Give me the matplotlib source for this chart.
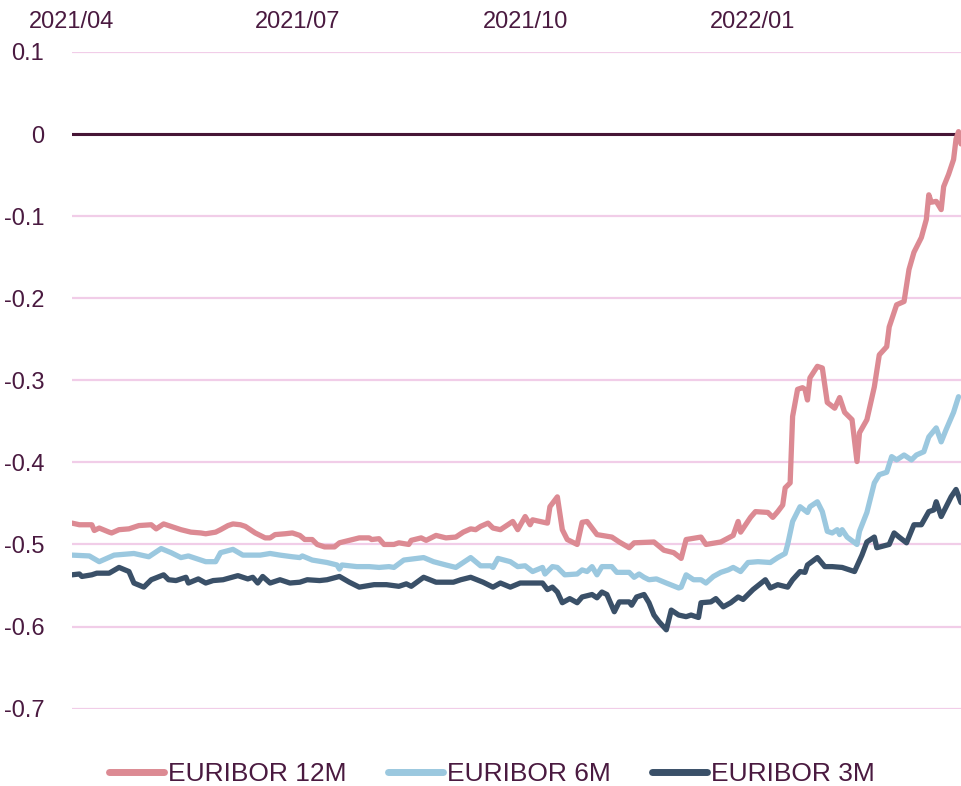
import numpy as np
import pandas as pd
import matplotlib
matplotlib.use("Agg")
import matplotlib.pyplot as plt
import matplotlib.dates as mdates

plt.rcParams["font.family"] = ["Liberation Sans", "DejaVu Sans"]

START = pd.Timestamp("2021-04-01")

# days since 2021-04-01, values in %
days_12m = [0, 3, 8, 9, 11, 15, 16, 19, 23, 27, 32, 34, 36, 37, 40, 44, 48, 52, 54, 58, 60, 63, 65, 68, 70,
            74, 78, 80, 82, 86, 89, 92, 94, 97, 99, 102, 106, 108, 112, 116, 120, 121, 124, 126, 130, 132,
            136, 137, 141, 143, 145, 147, 151, 155, 158, 161, 163, 165, 168, 170, 173, 175, 178, 180, 183,
            185, 186, 192, 193, 196, 198, 200, 204, 206, 208, 212, 218, 221, 225, 227, 235, 239, 243, 246,
            248, 250, 254, 256, 260, 262, 267, 269, 270, 274, 276, 281, 283, 285, 287, 288, 290, 291, 293,
            295, 296, 297, 298, 301, 303, 305, 308, 310, 312, 315, 317, 318, 321, 324, 326, 329, 330, 333,
            336, 338, 340, 343, 345, 346, 347, 349, 351, 352, 354, 356, 357, 358, 359]
euribor_12m = [-0.474, -0.476, -0.476, -0.483, -0.480, -0.485, -0.486, -0.482, -0.481, -0.477, -0.476,
               -0.481, -0.477, -0.475, -0.478, -0.482, -0.485, -0.486, -0.487, -0.485, -0.482, -0.477,
               -0.475, -0.476, -0.478, -0.486, -0.492, -0.492, -0.488, -0.487, -0.486, -0.489, -0.494,
               -0.494, -0.500, -0.503, -0.503, -0.498, -0.495, -0.492, -0.492, -0.494, -0.493, -0.500,
               -0.500, -0.498, -0.500, -0.495, -0.492, -0.495, -0.492, -0.489, -0.492, -0.491, -0.485,
               -0.481, -0.482, -0.478, -0.474, -0.480, -0.482, -0.478, -0.472, -0.482, -0.466, -0.476,
               -0.470, -0.474, -0.454, -0.442, -0.482, -0.494, -0.500, -0.473, -0.472, -0.488, -0.491,
               -0.497, -0.504, -0.498, -0.497, -0.507, -0.510, -0.517, -0.494, -0.493, -0.491, -0.500,
               -0.498, -0.497, -0.489, -0.472, -0.485, -0.467, -0.460, -0.461, -0.467, -0.460, -0.452,
               -0.431, -0.425, -0.344, -0.311, -0.309, -0.311, -0.324, -0.297, -0.283, -0.285, -0.327,
               -0.334, -0.321, -0.339, -0.348, -0.399, -0.364, -0.348, -0.308, -0.269, -0.259, -0.235,
               -0.208, -0.204, -0.165, -0.144, -0.126, -0.104, -0.074, -0.083, -0.082, -0.092, -0.064,
               -0.049, -0.031, -0.006, 0.003, -0.012]

days_6m = [0, 7, 11, 17, 25, 31, 36, 40, 44, 47, 54, 58, 60, 65, 69, 76, 80, 84, 89, 92, 93, 97, 103, 107,
           108, 109, 115, 120, 124, 128, 130, 134, 142, 146, 151, 155, 161, 165, 169, 170, 172, 177, 180,
           183, 186, 190, 191, 194, 196, 199, 204, 206, 208, 210, 212, 214, 218, 220, 225, 227, 229, 231,
           233, 236, 240, 245, 246, 248, 251, 254, 256, 259, 262, 265, 267, 270, 273, 277, 282, 285, 288,
           289, 291, 294, 297, 298, 301, 303, 305, 307, 309, 310, 311, 313, 317, 318, 321, 324, 326, 329,
           331, 333, 336, 339, 341, 344, 346, 349, 351, 353, 356, 358]
euribor_6m = [-0.513, -0.514, -0.521, -0.513, -0.511, -0.515, -0.505, -0.510, -0.516, -0.514, -0.521,
              -0.521, -0.510, -0.506, -0.513, -0.513, -0.511, -0.513, -0.515, -0.516, -0.514, -0.519,
              -0.522, -0.525, -0.530, -0.525, -0.527, -0.527, -0.528, -0.527, -0.528, -0.519, -0.516,
              -0.521, -0.525, -0.528, -0.516, -0.526, -0.526, -0.528, -0.517, -0.521, -0.527, -0.526,
              -0.533, -0.528, -0.536, -0.527, -0.528, -0.537, -0.536, -0.531, -0.533, -0.527, -0.537,
              -0.527, -0.527, -0.534, -0.534, -0.540, -0.536, -0.540, -0.543, -0.542, -0.547, -0.553,
              -0.552, -0.537, -0.543, -0.543, -0.547, -0.539, -0.534, -0.531, -0.528, -0.533, -0.522,
              -0.521, -0.522, -0.516, -0.511, -0.500, -0.472, -0.454, -0.461, -0.454, -0.448, -0.460,
              -0.484, -0.486, -0.482, -0.488, -0.482, -0.491, -0.500, -0.484, -0.461, -0.425, -0.415,
              -0.412, -0.393, -0.397, -0.391, -0.397, -0.391, -0.387, -0.369, -0.358, -0.375, -0.360,
              -0.339, -0.320]

days_3m = [0, 3, 4, 8, 10, 15, 19, 23, 25, 29, 32, 37, 39, 42, 46, 47, 51, 54, 57, 61, 67, 71, 73, 75, 77,
           80, 84, 88, 92, 95, 100, 103, 108, 112, 116, 122, 127, 132, 135, 137, 142, 147, 150, 154, 157,
           161, 166, 170, 173, 177, 181, 186, 190, 192, 194, 196, 198, 201, 204, 206, 210, 212, 214, 216,
           219, 221, 225, 226, 228, 231, 233, 235, 237, 240, 242, 245, 248, 250, 253, 254, 258, 260, 263,
           266, 269, 271, 275, 280, 282, 285, 289, 291, 294, 296, 297, 301, 304, 307, 311, 316, 319, 321,
           324, 325, 330, 332, 334, 337, 340, 343, 346, 348, 349, 351, 353, 355, 357, 359]
euribor_3m = [-0.537, -0.536, -0.539, -0.537, -0.535, -0.535, -0.528, -0.533, -0.547, -0.552, -0.543,
              -0.537, -0.543, -0.544, -0.540, -0.547, -0.542, -0.547, -0.544, -0.543, -0.538, -0.542,
              -0.540, -0.547, -0.539, -0.547, -0.543, -0.547, -0.546, -0.543, -0.544, -0.543, -0.539,
              -0.546, -0.552, -0.549, -0.549, -0.551, -0.548, -0.551, -0.540, -0.546, -0.546, -0.546,
              -0.543, -0.540, -0.546, -0.552, -0.547, -0.552, -0.547, -0.547, -0.547, -0.555, -0.552,
              -0.558, -0.571, -0.566, -0.571, -0.564, -0.561, -0.565, -0.558, -0.561, -0.582, -0.570,
              -0.570, -0.574, -0.564, -0.561, -0.571, -0.586, -0.594, -0.604, -0.580, -0.586, -0.588,
              -0.586, -0.589, -0.571, -0.570, -0.566, -0.576, -0.571, -0.564, -0.567, -0.555, -0.543,
              -0.553, -0.549, -0.552, -0.543, -0.533, -0.534, -0.525, -0.516, -0.527, -0.527, -0.528,
              -0.533, -0.513, -0.497, -0.491, -0.504, -0.500, -0.486, -0.491, -0.498, -0.476, -0.476,
              -0.460, -0.458, -0.448, -0.466, -0.454, -0.442, -0.433, -0.449]

series = [
    ("EURIBOR 12M", days_12m, euribor_12m, "#dc8a93"),
    ("EURIBOR 6M", days_6m, euribor_6m, "#9bc8df"),
    ("EURIBOR 3M", days_3m, euribor_3m, "#3a5068"),
]

TEXT = "#4a1a40"

fig = plt.figure(figsize=(9.61, 7.86), dpi=100)
ax = fig.add_axes([72 / 961, 1 - 708.6 / 786, 889 / 961, (708.6 - 52) / 786])

for name, days, vals, color in series:
    dates = START + pd.to_timedelta(days, unit="D")
    ax.plot(dates, vals, color=color, linewidth=3.8, label=name,
            solid_capstyle="round", solid_joinstyle="round", zorder=3)

ax.axhline(0, color="#461536", linewidth=2.2, zorder=2)

ax.set_ylim(-0.7, 0.1)
ax.set_yticks(np.arange(-0.7, 0.11, 0.1))
ax.set_yticklabels(["-0.7", "-0.6", "-0.5", "-0.4", "-0.3", "-0.2", "-0.1", "0", "0.1"])
ax.set_xlim(START, START + pd.Timedelta(days=359))
ax.xaxis.set_major_locator(mdates.MonthLocator(bymonth=[1, 4, 7, 10]))
ax.xaxis.set_major_formatter(mdates.DateFormatter("%Y/%m"))
ax.xaxis.tick_top()

ax.grid(axis="y", color="#f1cde8", linewidth=1.6, zorder=1)
ax.set_axisbelow(True)
for s in ax.spines.values():
    s.set_visible(False)
ax.tick_params(axis="both", length=0, labelsize=17, colors=TEXT)
ax.tick_params(axis="y", pad=20)
ax.tick_params(axis="x", pad=14)

leg = fig.legend(loc="center", bbox_to_anchor=(0.512, 12 / 786), ncol=3, frameon=False,
                 fontsize=19, handlelength=2.1, handletextpad=0.15, columnspacing=1.55)
for t in leg.get_texts():
    t.set_color(TEXT)
for h in leg.get_lines():
    h.set_linewidth(5)

fig.savefig("out.png", dpi=100)
